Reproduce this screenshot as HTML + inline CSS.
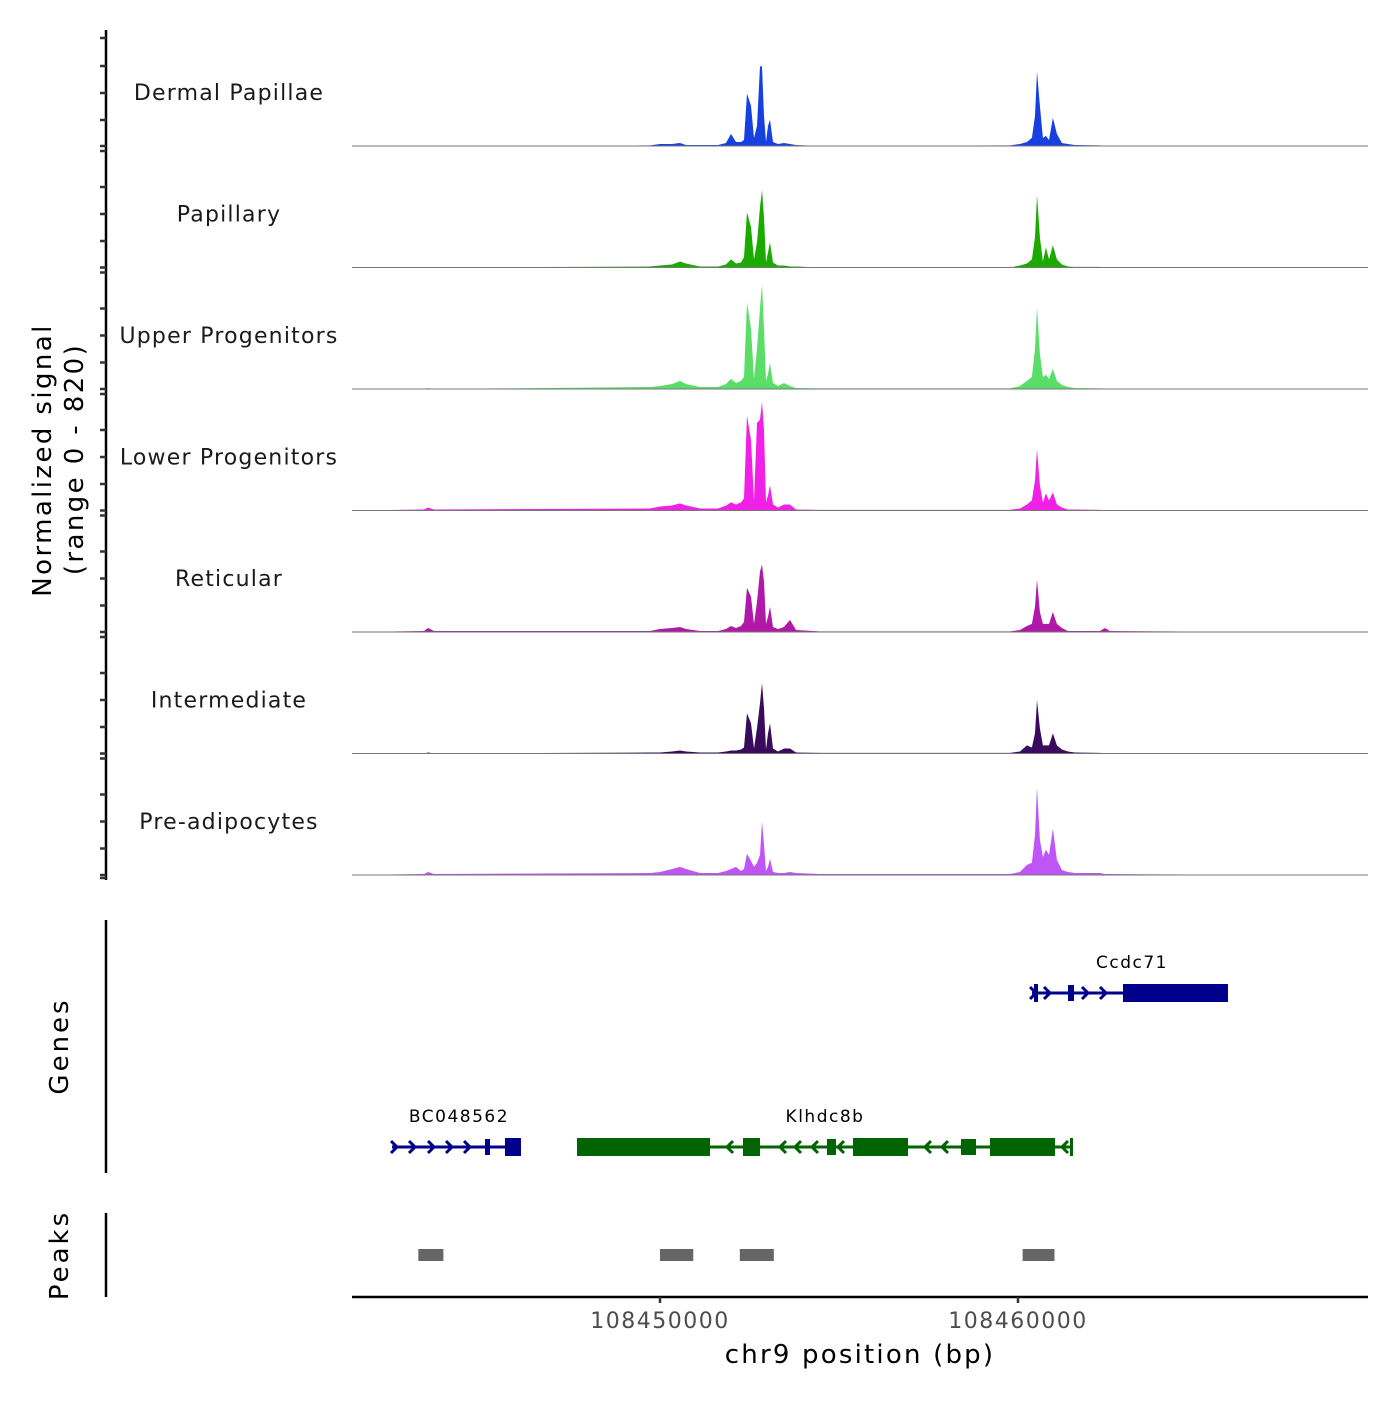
<!DOCTYPE html>
<html><head><meta charset="utf-8">
<style>
html,body{margin:0;padding:0;background:#fff}
svg text{font-family:"DejaVu Sans","Liberation Sans",sans-serif}
</style></head>
<body>
<svg id="chart" width="1400" height="1400" viewBox="0 0 1400 1400" xmlns="http://www.w3.org/2000/svg">
<rect width="1400" height="1400" fill="#fff"/>
<g id="tracks"></g>
<g id="leftaxis"></g>
<text transform="translate(51,460) rotate(-90)" text-anchor="middle" font-size="26" letter-spacing="2.4" fill="#000">Normalized signal</text>
<text transform="translate(83,459) rotate(-90)" text-anchor="middle" font-size="26" letter-spacing="2.4" fill="#000">(range 0 - 820)</text>
<g id="genes"></g>
<line x1="106" y1="920" x2="106" y2="1173" stroke="#000" stroke-width="2.5"/>
<text transform="translate(68,1046) rotate(-90)" text-anchor="middle" font-size="26" letter-spacing="3">Genes</text>
<line x1="106" y1="1213" x2="106" y2="1297" stroke="#000" stroke-width="2.5"/>
<text transform="translate(68,1255) rotate(-90)" text-anchor="middle" font-size="26" letter-spacing="3">Peaks</text>
<g id="peaks"></g>
<g id="xaxis"></g>
<text x="860" y="1363" text-anchor="middle" font-size="26" letter-spacing="2.2">chr9 position (bp)</text>
</svg>
<script>
const NS="http://www.w3.org/2000/svg";
const positions=[108441398,108443409,108443520,108443688,108449721,108450000,108450335,108450559,108450726,108451117,108451620,108451843,108451983,108452123,108452262,108452346,108452430,108452542,108452625,108452709,108452793,108452849,108452905,108452961,108453016,108453072,108453156,108453296,108453463,108453631,108453798,108454469,108459776,108460055,108460250,108460390,108460474,108460530,108460613,108460697,108460781,108460865,108460976,108461088,108461228,108461395,108461591,108462289,108462429,108462569,108467317,108469774];
const trackNames=["Dermal Papillae","Papillary","Upper Progenitors","Lower Progenitors","Reticular","Intermediate","Pre-adipocytes"];
const trackColors=["#1740e0","#1aaa00","#5ade68","#f020e6","#b018a8","#3a0b5c","#bf55f7"];
const dermalPapillae=[0,0,4,0,4,14,14,21,7,7,7,21,84,28,28,42,364,280,56,140,553,553,210,28,140,182,28,14,21,14,7,0,4,14,28,56,210,518,280,56,70,42,196,84,21,14,7,4,0,0,0,0];
const papillary=[0,0,4,0,7,14,21,42,28,7,7,21,56,28,35,70,385,280,56,175,420,539,350,35,105,175,35,14,14,7,7,0,0,14,28,56,210,504,210,42,140,56,154,56,21,7,4,4,0,0,0,0];
const upperProgenitors=[0,0,7,0,14,21,35,56,35,14,14,35,70,42,56,84,602,420,70,280,560,728,420,56,105,182,42,21,42,21,7,4,4,21,56,84,280,567,245,84,98,70,140,56,28,14,7,4,0,0,0,0];
const lowerProgenitors=[0,7,21,7,14,28,35,49,35,14,14,35,56,42,56,84,658,490,70,609,630,756,560,56,105,175,42,21,42,42,7,4,4,14,42,70,210,427,175,56,119,70,126,42,21,7,7,4,0,0,0,0];
const reticular=[0,7,28,7,7,21,28,35,21,7,7,21,42,28,42,70,308,245,56,210,420,469,350,56,105,175,35,21,35,84,14,4,4,14,42,56,175,364,140,56,56,56,140,56,28,7,7,7,28,7,0,0];
const intermediate=[0,0,7,0,7,7,14,21,14,7,7,14,21,21,28,42,280,210,35,175,350,490,315,28,140,210,35,14,35,35,7,4,4,14,56,42,140,371,175,56,56,56,140,56,28,14,7,4,0,0,0,0];
const preAdipocytes=[0,7,21,7,14,21,42,56,42,14,14,28,42,56,28,42,147,98,56,84,140,371,210,28,56,112,21,14,14,21,14,7,7,21,70,84,280,609,245,126,175,140,322,105,35,21,14,14,7,7,0,0];
const trackValues=[dermalPapillae,papillary,upperProgenitors,lowerProgenitors,reticular,intermediate,preAdipocytes];
const xTicks=[108450000,108460000];
const xTickLabels=["108450000","108460000"];
const peakStarts=[108443250,108450000,108452230,108460130];
const peakEnds=[108443950,108450930,108453180,108461020];
const signalMax=820;

const X0=352,X1=1368,BP0=108441397,BP1=108469777;
function xs(bp){return X0+(bp-BP0)/(BP1-BP0)*(X1-X0);}
const trackTop=24.5,trackH=121.5,plotH=118;
function ys(v,i){const base=trackTop+trackH*(i+1);return base-v/signalMax*plotH;}
function mk(tag,attrs,parent){const e=document.createElementNS(NS,tag);for(const k in attrs)e.setAttribute(k,attrs[k]);parent.appendChild(e);return e;}

const tg=document.getElementById('tracks');
trackValues.forEach((vals,i)=>{
  const base=trackTop+trackH*(i+1);
  let d=`M${xs(positions[0])},${base}`;
  vals.forEach((v,j)=>{d+=` L${xs(positions[j]).toFixed(1)},${ys(v,i).toFixed(1)}`;});
  d+=` L${xs(positions[positions.length-1])},${base} Z`;
  const p=mk('path',{d:d,fill:trackColors[i]},tg);
  
  
  const l=mk('line',{x1:X0,x2:X1,y1:base,y2:base,stroke:'#777','stroke-width':1},tg);
  
  
  const t=mk('text',{x:229,y:base-46,'text-anchor':'middle','font-size':22,'letter-spacing':1.2,fill:'#1a1a1a'},tg);
  t.textContent=trackNames[i];
  
  
});

const la=document.getElementById('leftaxis');
const ax=mk('line',{x1:106,x2:106,y1:30,y2:880,stroke:'#000','stroke-width':2.5},la);


let ticks=[38,66,93,120];
for(let k=0;k<7;k++){const b=146+k*121.5;[0,5,41,68,95].forEach(o=>{if(b+o<=878)ticks.push(b+o);});}
ticks.push(878);
ticks.forEach(y=>{const t=mk('line',{x1:100,x2:106,y1:y,y2:y,stroke:'#333','stroke-width':2.5},la);
  
  });

const gg=document.getElementById('genes');
function gene(name,color,x1,x2,y,exons,dir,chev,lx,ly){
  const g=mk('g',{},gg);
  
  
  mk('line',{x1:x1,x2:x2,y1:y,y2:y,stroke:color,'stroke-width':3},g);
  exons.forEach(e=>mk('rect',{x:e[0],y:y-e[2]/2,width:e[1]-e[0],height:e[2],fill:color},g));
  chev.forEach(cx=>{const s=dir>0?-6:6;mk('path',{d:`M${cx+s},${y-6} L${cx},${y} L${cx+s},${y+6}`,fill:'none',stroke:color,'stroke-width':3},g);});
  const t=mk('text',{x:lx,y:ly,'text-anchor':'middle','font-size':17,'letter-spacing':1.5,fill:'#000'},g);
  t.textContent=name;
}
gene('Ccdc71','#00008b',1032,1228,993,[[1034,1038,18],[1068,1074,16],[1123,1228,18]],1,[1036,1050,1088,1106],1132,968);
gene('BC048562','#00008b',392,520,1147,[[485,490,16],[505,521,18]],1,[397,415,434,452,470],459,1122);
gene('Klhdc8b','#006400',577,1072,1147,[[577,710,18],[743,760,18],[827,836,16],[853,908,18],[961,976,16],[990,1055,18],[1070,1073,18]],-1,[727,780,795,812,838,925,942,961,1062],825,1122);

const pg=document.getElementById('peaks');
peakStarts.forEach((s,i)=>{const r=mk('rect',{x:xs(s),y:1249,width:xs(peakEnds[i])-xs(s),height:12,fill:'#666'},pg);
  
  });

const xa=document.getElementById('xaxis');
const xl=mk('line',{x1:X0,x2:X1,y1:1297,y2:1297,stroke:'#000','stroke-width':2.5},xa);


xTicks.forEach((b,i)=>{const x=xs(b);
  const tk=mk('line',{x1:x,x2:x,y1:1297,y2:1303,stroke:'#333','stroke-width':2.5},xa);
  
  
  const t=mk('text',{x:x,y:1328,'text-anchor':'middle','font-size':22,'letter-spacing':1.5,fill:'#4d4d4d'},xa);
  t.textContent=xTickLabels[i];
  
  });
</script>
</body></html>
